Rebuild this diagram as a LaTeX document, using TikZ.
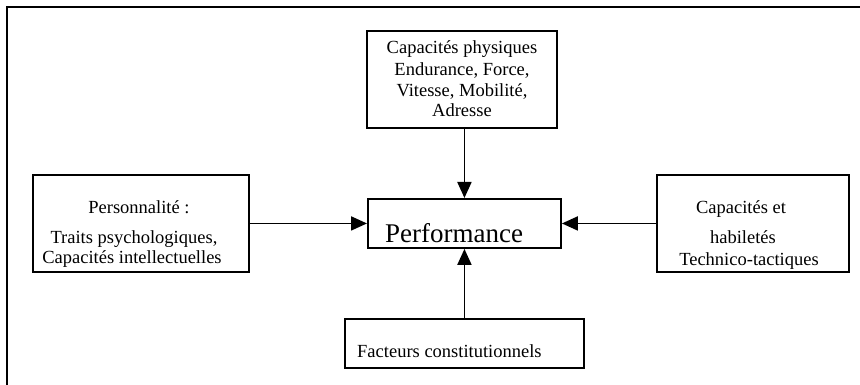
\documentclass[tikz,border=0pt]{standalone}
\usepackage{fontspec}
\setmainfont{Liberation Serif}
\usetikzlibrary{arrows.meta}
\begin{document}
\begin{tikzpicture}[x=1pt,y=-1pt,
  box/.style={draw,line width=1.9pt,rectangle,inner sep=0pt,anchor=north west},
  txt/.style={inner sep=0pt,anchor=base,font=\fontsize{18.5}{21}\selectfont},
  conn/.style={line width=1.9pt,-{Triangle[length=16pt,width=14pt]}}]
\useasboundingbox (0,0) rectangle (860,385);
% outer frame (partial)
\draw[line width=2.2pt] (7,385) -- (7,7) -- (862,7);
% boxes
\node[box,minimum width=190pt,minimum height=97pt] (phys) at (366,30) {};
\node[box,minimum width=216pt,minimum height=97pt] (pers) at (32,174) {};
\node[box,minimum width=193pt,minimum height=49pt] (perf) at (367,198) {};
\node[box,minimum width=192pt,minimum height=97pt] (tech) at (656,174) {};
\node[box,minimum width=239pt,minimum height=49pt] (fact) at (344,318) {};
% texts
\node[txt] (p1) at (462,54) {Capacités physiques};
\node[txt] (p2) at (462,76) {Endurance, Force,};
\node[txt] (p3) at (462,97) {Vitesse, Mobilité,};
\node[txt] (p4) at (462,117) {Adresse};
\node[txt] (l1) at (139,214) {Personnalité :};
\node[txt] (l2) at (134,243) {Traits psychologiques,};
\node[txt] (l3) at (132,263) {Capacités intellectuelles};
\node[txt] (r1) at (741,214) {Capacités et};
\node[txt] (r2) at (743,243) {habiletés};
\node[txt] (r3) at (749,265) {Technico-tactiques};
\node[txt,anchor=base west] (f1) at (357,357) {Facteurs constitutionnels};
\node[inner sep=0pt,anchor=base west,font=\fontsize{27}{30}\selectfont] (pt) at (385,242) {Performance};
% connectors
\draw[conn] (phys.south -| perf.north) -- (perf.north);
\draw[conn] (fact.north -| perf.south) -- (perf.south);
\draw[conn] (pers.east |- perf.west) -- (perf.west);
\draw[conn] (tech.west |- perf.east) -- (perf.east);
\end{tikzpicture}
\end{document}
